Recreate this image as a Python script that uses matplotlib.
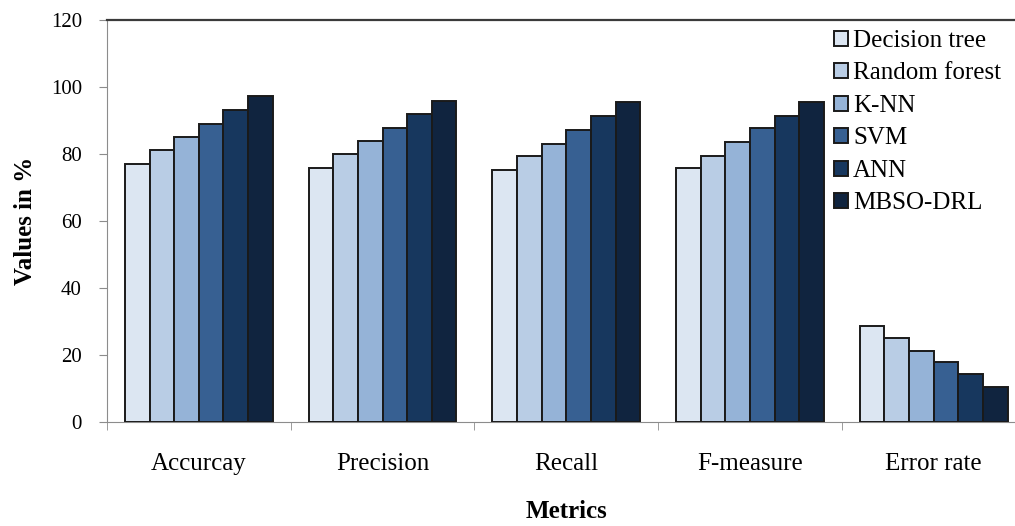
import numpy as np
import matplotlib
matplotlib.use("Agg")
import matplotlib.pyplot as plt

plt.rcParams['font.family'] = ['Liberation Serif', 'DejaVu Serif']

# metrics and classifier results (%)
metrics = ['Accurcay', 'Precision', 'Recall', 'F-measure', 'Error rate']
methods = ['Decision tree', 'Random forest', 'K-NN', 'SVM', 'ANN', 'MBSO-DRL']
decision_tree = [77.0, 75.7, 75.2, 75.7, 28.7]
random_forest = [81.2, 79.9, 79.3, 79.3, 25.0]
knn = [85.2, 84.0, 82.9, 83.6, 21.2]
svm = [89.0, 87.7, 87.1, 87.7, 17.8]
ann = [93.1, 91.9, 91.3, 91.3, 14.2]
mbso_drl = [97.3, 95.9, 95.4, 95.4, 10.5]

series = [decision_tree, random_forest, knn, svm, ann, mbso_drl]
colors = ['#dce6f2', '#b9cde5', '#95b3d7', '#376092', '#17375e', '#10243f']

fig = plt.figure(figsize=(10.15, 5.26), dpi=100)
ax = fig.add_axes([0.1054, 0.1977, 0.905, 0.7643])

x = np.arange(len(metrics))
w = 0.134
for i, (vals, name, c) in enumerate(zip(series, methods, colors)):
    off = (i - 2.5) * w
    ax.bar(x + off, vals, w, color=c, edgecolor='#1a1a1a', linewidth=1.4,
           label=name, zorder=3)

ax.set_xlim(-0.5, len(metrics) - 0.5)
ax.set_ylim(0, 120)
ax.set_yticks(np.arange(0, 121, 20))
ax.set_xticks(x)
ax.set_xticklabels(metrics, fontsize=18)
ax.set_xticks(np.arange(-0.5, len(metrics), 1.0), minor=True)
ax.tick_params(axis='x', which='major', length=0, pad=22)
ax.tick_params(axis='x', which='minor', length=6, color='#8c8c8c')
ax.tick_params(axis='y', length=6, color='#8c8c8c', labelsize=15, pad=12)

ax.spines['right'].set_visible(False)
ax.spines['left'].set_color('#8c8c8c')
ax.spines['bottom'].set_color('#8c8c8c')
ax.spines['top'].set_color('#3a3a3a')
ax.spines['top'].set_linewidth(1.6)

ax.set_ylabel('Values in %', fontsize=18, fontweight='bold', labelpad=10)
ax.set_xlabel('Metrics', fontsize=18, fontweight='bold', labelpad=18)

leg = ax.legend(loc='upper left', bbox_to_anchor=(0.781, 1.0), frameon=False,
                fontsize=18, handlelength=0.55, handleheight=0.55,
                handletextpad=0.2, labelspacing=0.42, borderaxespad=0)

fig.savefig('out.png', dpi=100)
